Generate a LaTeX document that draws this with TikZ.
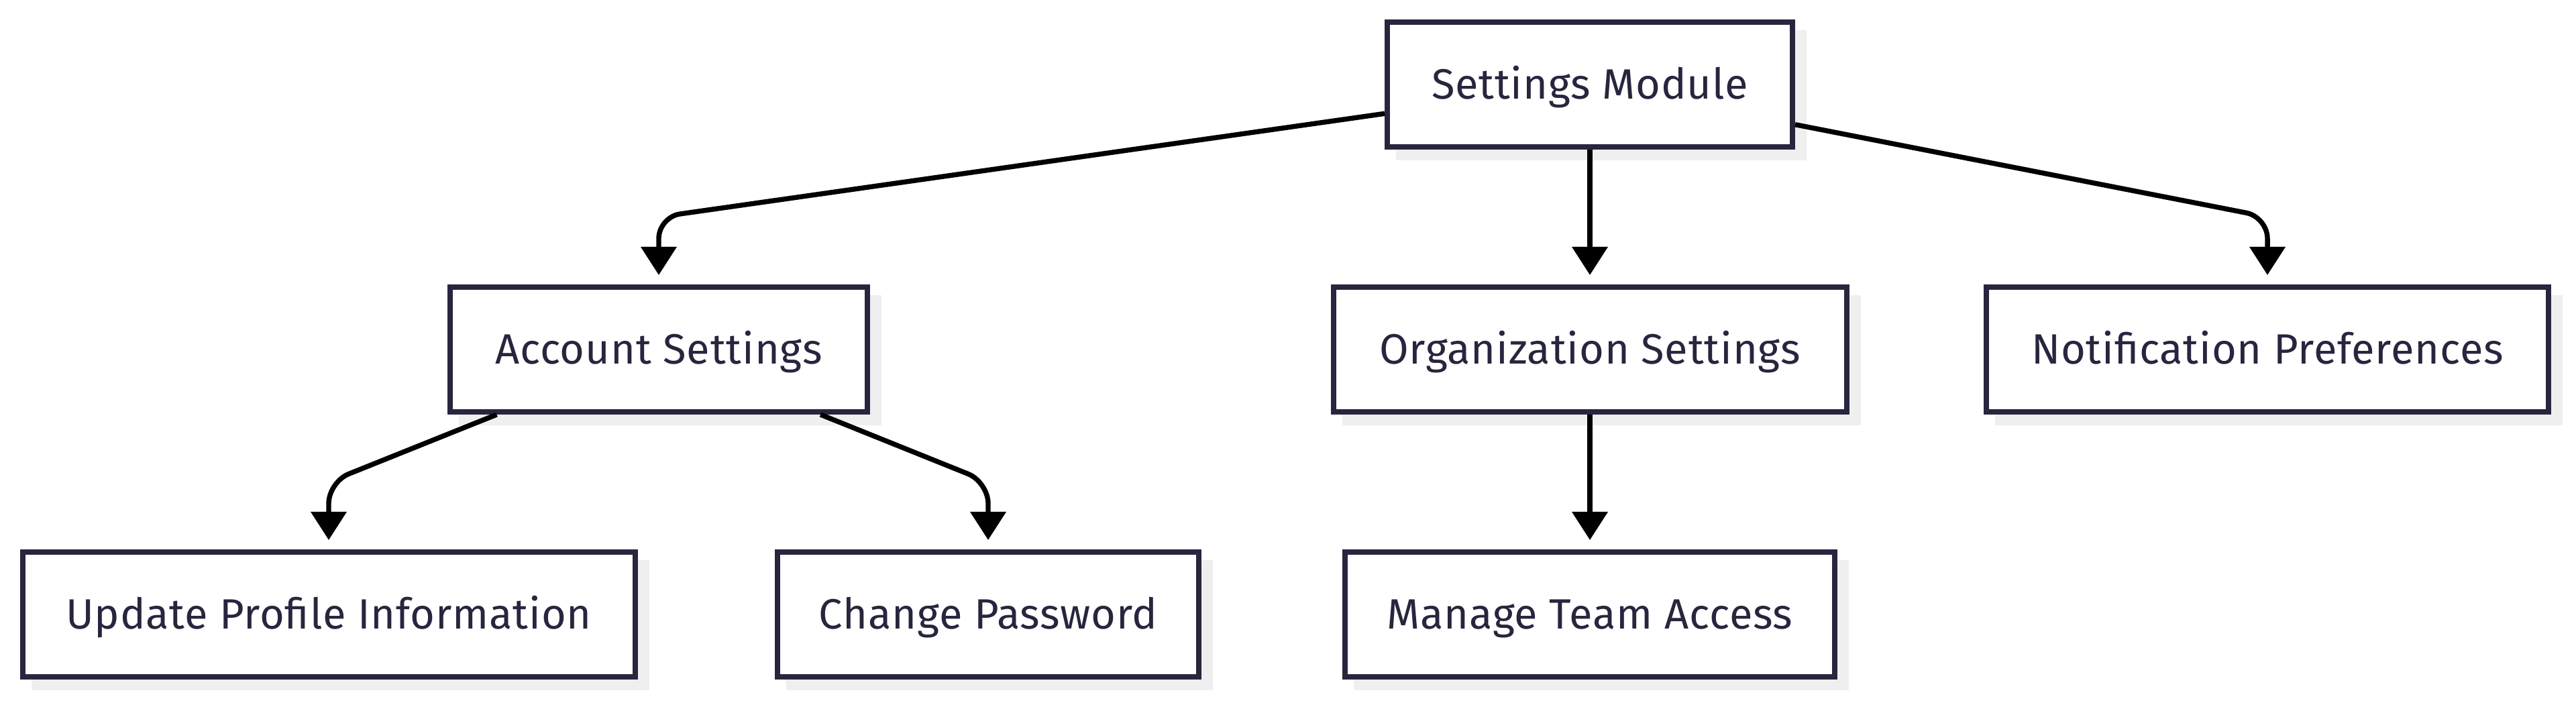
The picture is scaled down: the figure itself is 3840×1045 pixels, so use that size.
\documentclass[tikz,border=0pt]{standalone}
\usepackage{fontspec}
\setmainfont{Fira Sans}[LetterSpace=1.3]
\usetikzlibrary{arrows.meta,shadows,calc}
\definecolor{boxline}{RGB}{39,38,62}
\definecolor{boxtext}{RGB}{39,38,62}
\definecolor{shade}{RGB}{239,239,239}
\begin{document}
\begin{tikzpicture}[x=0.25pt,y=-0.25pt,
  box/.style={draw=boxline, line width=2pt, fill=white, rectangle,
    minimum height=46.5pt, inner sep=0pt,
    font=\fontsize{15.8}{19}\selectfont, text=boxtext,
    text height=10.8pt, text depth=0pt,
    drop shadow={shadow xshift=4.25pt, shadow yshift=-4pt, fill=shade,
      draw=shade, line width=2pt, opacity=1}},
  edge/.style={draw=black, line width=1.85pt,
    -{Triangle[length=10.5pt,width=13pt]}, shorten >=3.5pt,
    rounded corners=8pt}]
\useasboundingbox (0,0) rectangle (3840,1045);
\node[box, minimum width=151pt]    (sm)  at (2370,126) {Settings Module};
\node[box, minimum width=155.5pt]  (acc) at (982,521)  {Account Settings};
\node[box, minimum width=191.25pt] (org) at (2370,521) {Organization Settings};
\node[box, minimum width=209.5pt]  (ntf) at (3380,521) {Notification Preferences};
\node[box, minimum width=228.25pt] (upd) at (490,916)  {Update Profile Information};
\node[box, minimum width=157pt]    (pwd) at (1473,916) {Change Password};
\node[box, minimum width=182.5pt]  (mta) at (2370,916) {Manage Team Access};
\coordinate (c1) at ($(acc.north)!0.5!(acc.north |- sm.south)$);
\coordinate (c2) at ($(ntf.north)!0.5!(ntf.north |- sm.south)$);
\coordinate (c3) at ($(upd.north)!0.5!(upd.north |- acc.south)$);
\coordinate (c4) at ($(pwd.north)!0.5!(pwd.north |- acc.south)$);
\draw[edge] (sm) -- (c1) -- (acc.north);
\draw[edge] (sm.south) -- (org.north);
\draw[edge] (sm) -- (c2) -- (ntf.north);
\draw[edge] (acc) -- (c3) -- (upd.north);
\draw[edge] (acc) -- (c4) -- (pwd.north);
\draw[edge] (org.south) -- (mta.north);
\end{tikzpicture}
\end{document}
